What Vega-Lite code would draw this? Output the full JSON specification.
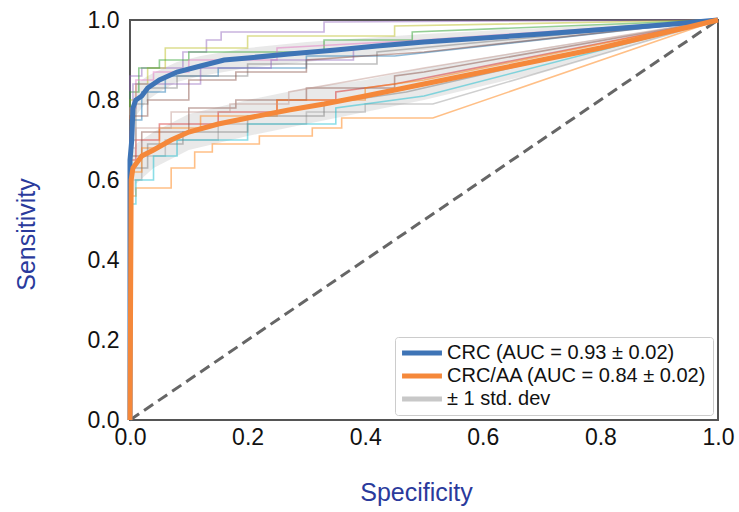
{
  "$schema": "https://vega.github.io/schema/vega-lite/v6.json",
  "width": 588,
  "height": 400,
  "autosize": "none",
  "padding": {"left": 130, "top": 20, "right": 21, "bottom": 92},
  "background": "white",
  "config": {
    "font": "Liberation Sans",
    "view": {"stroke": "#555555", "strokeWidth": 2},
    "axis": {"grid": false, "domain": false, "ticks": false, "labelFlush": false, "labelOverlap": false, "labelBound": false, "labelFontSize": 23, "labelColor": "#111111", "titleFontSize": 25, "titleFontWeight": "normal", "titleColor": "#2a3a9c"},
    "legend": {
      "title": null, "orient": "bottom-right", "offset": 5, "padding": 6, "rowPadding": 3,
      "labelFontSize": 20, "labelColor": "#111111", "labelOffset": 15, "labelLimit": 400,
      "strokeColor": "#cccccc", "fillColor": "white", "cornerRadius": 3, "symbolSize": 361, "symbolOffset": 11,
      "symbolType": "M-2.1,-0.26H2.1V0.26H-2.1Z", "symbolOpacity": 1, "symbolStrokeWidth": 0
    }
  },
  "datasets": {
    "folds": [
      {"id":"c1","i":0,"x":0,"y":0},{"id":"c1","i":1,"x":0,"y":0.86},{"id":"c1","i":2,"x":0.02,"y":0.86},{"id":"c1","i":3,"x":0.02,"y":0.88},{"id":"c1","i":4,"x":0.09,"y":0.88},{"id":"c1","i":5,"x":0.09,"y":0.92},{"id":"c1","i":6,"x":0.13,"y":0.92},{"id":"c1","i":7,"x":0.13,"y":0.95},{"id":"c1","i":8,"x":0.155,"y":0.95},{"id":"c1","i":9,"x":0.155,"y":0.97},{"id":"c1","i":10,"x":0.33,"y":0.97},{"id":"c1","i":11,"x":0.33,"y":0.995},{"id":"c1","i":12,"x":1,"y":1},
      {"id":"c2","i":0,"x":0,"y":0},{"id":"c2","i":1,"x":0,"y":0.8},{"id":"c2","i":2,"x":0.01,"y":0.8},{"id":"c2","i":3,"x":0.01,"y":0.84},{"id":"c2","i":4,"x":0.03,"y":0.84},{"id":"c2","i":5,"x":0.03,"y":0.88},{"id":"c2","i":6,"x":0.06,"y":0.88},{"id":"c2","i":7,"x":0.06,"y":0.93},{"id":"c2","i":8,"x":0.2,"y":0.93},{"id":"c2","i":9,"x":0.2,"y":0.96},{"id":"c2","i":10,"x":0.45,"y":0.96},{"id":"c2","i":11,"x":0.45,"y":0.985},{"id":"c2","i":12,"x":1,"y":1},
      {"id":"c3","i":0,"x":0,"y":0},{"id":"c3","i":1,"x":0,"y":0.82},{"id":"c3","i":2,"x":0.015,"y":0.82},{"id":"c3","i":3,"x":0.015,"y":0.88},{"id":"c3","i":4,"x":0.05,"y":0.88},{"id":"c3","i":5,"x":0.05,"y":0.9},{"id":"c3","i":6,"x":0.1,"y":0.9},{"id":"c3","i":7,"x":0.1,"y":0.92},{"id":"c3","i":8,"x":0.33,"y":0.92},{"id":"c3","i":9,"x":0.33,"y":0.95},{"id":"c3","i":10,"x":0.48,"y":0.95},{"id":"c3","i":11,"x":0.48,"y":0.97},{"id":"c3","i":12,"x":1,"y":1},
      {"id":"c4","i":0,"x":0,"y":0},{"id":"c4","i":1,"x":0,"y":0.78},{"id":"c4","i":2,"x":0.01,"y":0.78},{"id":"c4","i":3,"x":0.01,"y":0.85},{"id":"c4","i":4,"x":0.04,"y":0.85},{"id":"c4","i":5,"x":0.04,"y":0.87},{"id":"c4","i":6,"x":0.1,"y":0.87},{"id":"c4","i":7,"x":0.1,"y":0.9},{"id":"c4","i":8,"x":0.25,"y":0.9},{"id":"c4","i":9,"x":0.25,"y":0.93},{"id":"c4","i":10,"x":0.5,"y":0.95},{"id":"c4","i":11,"x":1,"y":1},
      {"id":"c5","i":0,"x":0,"y":0},{"id":"c5","i":1,"x":0,"y":0.75},{"id":"c5","i":2,"x":0.02,"y":0.75},{"id":"c5","i":3,"x":0.02,"y":0.82},{"id":"c5","i":4,"x":0.06,"y":0.82},{"id":"c5","i":5,"x":0.06,"y":0.86},{"id":"c5","i":6,"x":0.15,"y":0.86},{"id":"c5","i":7,"x":0.15,"y":0.88},{"id":"c5","i":8,"x":0.3,"y":0.88},{"id":"c5","i":9,"x":0.3,"y":0.91},{"id":"c5","i":10,"x":0.45,"y":0.91},{"id":"c5","i":11,"x":1,"y":1},
      {"id":"c6","i":0,"x":0,"y":0},{"id":"c6","i":1,"x":0,"y":0.7},{"id":"c6","i":2,"x":0.01,"y":0.7},{"id":"c6","i":3,"x":0.01,"y":0.79},{"id":"c6","i":4,"x":0.03,"y":0.79},{"id":"c6","i":5,"x":0.03,"y":0.83},{"id":"c6","i":6,"x":0.08,"y":0.83},{"id":"c6","i":7,"x":0.08,"y":0.86},{"id":"c6","i":8,"x":0.2,"y":0.86},{"id":"c6","i":9,"x":0.2,"y":0.89},{"id":"c6","i":10,"x":0.42,"y":0.89},{"id":"c6","i":11,"x":0.42,"y":0.92},{"id":"c6","i":12,"x":1,"y":1},
      {"id":"c7","i":0,"x":0,"y":0},{"id":"c7","i":1,"x":0,"y":0.72},{"id":"c7","i":2,"x":0.005,"y":0.72},{"id":"c7","i":3,"x":0.005,"y":0.84},{"id":"c7","i":4,"x":0.12,"y":0.84},{"id":"c7","i":5,"x":0.12,"y":0.88},{"id":"c7","i":6,"x":0.24,"y":0.88},{"id":"c7","i":7,"x":0.24,"y":0.9},{"id":"c7","i":8,"x":0.38,"y":0.9},{"id":"c7","i":9,"x":0.38,"y":0.93},{"id":"c7","i":10,"x":1,"y":1},
      {"id":"c8","i":0,"x":0,"y":0},{"id":"c8","i":1,"x":0,"y":0.76},{"id":"c8","i":2,"x":0.03,"y":0.76},{"id":"c8","i":3,"x":0.03,"y":0.8},{"id":"c8","i":4,"x":0.1,"y":0.8},{"id":"c8","i":5,"x":0.1,"y":0.85},{"id":"c8","i":6,"x":0.18,"y":0.85},{"id":"c8","i":7,"x":0.18,"y":0.87},{"id":"c8","i":8,"x":0.3,"y":0.87},{"id":"c8","i":9,"x":0.3,"y":0.9},{"id":"c8","i":10,"x":0.5,"y":0.92},{"id":"c8","i":11,"x":1,"y":1},
      {"id":"a1","i":0,"x":0,"y":0},{"id":"a1","i":1,"x":0,"y":0.56},{"id":"a1","i":2,"x":0.01,"y":0.56},{"id":"a1","i":3,"x":0.01,"y":0.58},{"id":"a1","i":4,"x":0.07,"y":0.58},{"id":"a1","i":5,"x":0.07,"y":0.63},{"id":"a1","i":6,"x":0.11,"y":0.63},{"id":"a1","i":7,"x":0.11,"y":0.67},{"id":"a1","i":8,"x":0.14,"y":0.67},{"id":"a1","i":9,"x":0.14,"y":0.69},{"id":"a1","i":10,"x":0.22,"y":0.69},{"id":"a1","i":11,"x":0.22,"y":0.71},{"id":"a1","i":12,"x":0.31,"y":0.71},{"id":"a1","i":13,"x":0.31,"y":0.73},{"id":"a1","i":14,"x":0.36,"y":0.73},{"id":"a1","i":15,"x":0.36,"y":0.755},{"id":"a1","i":16,"x":0.515,"y":0.755},{"id":"a1","i":17,"x":1,"y":1},
      {"id":"a2","i":0,"x":0,"y":0},{"id":"a2","i":1,"x":0,"y":0.6},{"id":"a2","i":2,"x":0.02,"y":0.6},{"id":"a2","i":3,"x":0.02,"y":0.66},{"id":"a2","i":4,"x":0.06,"y":0.66},{"id":"a2","i":5,"x":0.06,"y":0.7},{"id":"a2","i":6,"x":0.15,"y":0.7},{"id":"a2","i":7,"x":0.15,"y":0.74},{"id":"a2","i":8,"x":0.3,"y":0.74},{"id":"a2","i":9,"x":0.3,"y":0.77},{"id":"a2","i":10,"x":0.4,"y":0.77},{"id":"a2","i":11,"x":0.4,"y":0.79},{"id":"a2","i":12,"x":0.515,"y":0.79},{"id":"a2","i":13,"x":1,"y":1},
      {"id":"a3","i":0,"x":0,"y":0},{"id":"a3","i":1,"x":0,"y":0.54},{"id":"a3","i":2,"x":0.01,"y":0.54},{"id":"a3","i":3,"x":0.01,"y":0.6},{"id":"a3","i":4,"x":0.04,"y":0.6},{"id":"a3","i":5,"x":0.04,"y":0.66},{"id":"a3","i":6,"x":0.08,"y":0.66},{"id":"a3","i":7,"x":0.08,"y":0.7},{"id":"a3","i":8,"x":0.2,"y":0.7},{"id":"a3","i":9,"x":0.2,"y":0.74},{"id":"a3","i":10,"x":0.35,"y":0.74},{"id":"a3","i":11,"x":0.35,"y":0.78},{"id":"a3","i":12,"x":0.5,"y":0.81},{"id":"a3","i":13,"x":1,"y":1},
      {"id":"a4","i":0,"x":0,"y":0},{"id":"a4","i":1,"x":0,"y":0.65},{"id":"a4","i":2,"x":0.01,"y":0.65},{"id":"a4","i":3,"x":0.01,"y":0.7},{"id":"a4","i":4,"x":0.05,"y":0.7},{"id":"a4","i":5,"x":0.05,"y":0.74},{"id":"a4","i":6,"x":0.15,"y":0.74},{"id":"a4","i":7,"x":0.15,"y":0.77},{"id":"a4","i":8,"x":0.25,"y":0.77},{"id":"a4","i":9,"x":0.25,"y":0.8},{"id":"a4","i":10,"x":0.35,"y":0.8},{"id":"a4","i":11,"x":0.35,"y":0.82},{"id":"a4","i":12,"x":0.45,"y":0.84},{"id":"a4","i":13,"x":1,"y":1},
      {"id":"a5","i":0,"x":0,"y":0},{"id":"a5","i":1,"x":0,"y":0.66},{"id":"a5","i":2,"x":0.02,"y":0.66},{"id":"a5","i":3,"x":0.02,"y":0.72},{"id":"a5","i":4,"x":0.1,"y":0.72},{"id":"a5","i":5,"x":0.1,"y":0.78},{"id":"a5","i":6,"x":0.18,"y":0.78},{"id":"a5","i":7,"x":0.18,"y":0.8},{"id":"a5","i":8,"x":0.3,"y":0.8},{"id":"a5","i":9,"x":0.3,"y":0.83},{"id":"a5","i":10,"x":0.45,"y":0.83},{"id":"a5","i":11,"x":0.45,"y":0.86},{"id":"a5","i":12,"x":0.5,"y":0.87},{"id":"a5","i":13,"x":1,"y":1},
      {"id":"a6","i":0,"x":0,"y":0},{"id":"a6","i":1,"x":0,"y":0.62},{"id":"a6","i":2,"x":0.02,"y":0.62},{"id":"a6","i":3,"x":0.02,"y":0.68},{"id":"a6","i":4,"x":0.05,"y":0.68},{"id":"a6","i":5,"x":0.05,"y":0.73},{"id":"a6","i":6,"x":0.12,"y":0.73},{"id":"a6","i":7,"x":0.12,"y":0.76},{"id":"a6","i":8,"x":0.25,"y":0.76},{"id":"a6","i":9,"x":0.25,"y":0.8},{"id":"a6","i":10,"x":0.4,"y":0.8},{"id":"a6","i":11,"x":0.4,"y":0.83},{"id":"a6","i":12,"x":0.5,"y":0.85},{"id":"a6","i":13,"x":1,"y":1},
      {"id":"a7","i":0,"x":0,"y":0},{"id":"a7","i":1,"x":0,"y":0.63},{"id":"a7","i":2,"x":0.03,"y":0.63},{"id":"a7","i":3,"x":0.03,"y":0.69},{"id":"a7","i":4,"x":0.09,"y":0.69},{"id":"a7","i":5,"x":0.09,"y":0.72},{"id":"a7","i":6,"x":0.2,"y":0.72},{"id":"a7","i":7,"x":0.2,"y":0.76},{"id":"a7","i":8,"x":0.33,"y":0.76},{"id":"a7","i":9,"x":0.33,"y":0.79},{"id":"a7","i":10,"x":0.47,"y":0.82},{"id":"a7","i":11,"x":1,"y":1},
      {"id":"a8","i":0,"x":0,"y":0},{"id":"a8","i":1,"x":0,"y":0.68},{"id":"a8","i":2,"x":0.01,"y":0.68},{"id":"a8","i":3,"x":0.01,"y":0.73},{"id":"a8","i":4,"x":0.07,"y":0.73},{"id":"a8","i":5,"x":0.07,"y":0.77},{"id":"a8","i":6,"x":0.17,"y":0.77},{"id":"a8","i":7,"x":0.17,"y":0.79},{"id":"a8","i":8,"x":0.27,"y":0.79},{"id":"a8","i":9,"x":0.27,"y":0.82},{"id":"a8","i":10,"x":0.5,"y":0.88},{"id":"a8","i":11,"x":1,"y":1}
    ],
    "means": [
      {"series":"CRC (AUC = 0.93 ± 0.02)","i":0,"x":0,"y":0},{"series":"CRC (AUC = 0.93 ± 0.02)","i":1,"x":0,"y":0.65},{"series":"CRC (AUC = 0.93 ± 0.02)","i":2,"x":0.003,"y":0.7},{"series":"CRC (AUC = 0.93 ± 0.02)","i":3,"x":0.005,"y":0.78},{"series":"CRC (AUC = 0.93 ± 0.02)","i":4,"x":0.01,"y":0.8},{"series":"CRC (AUC = 0.93 ± 0.02)","i":5,"x":0.02,"y":0.81},{"series":"CRC (AUC = 0.93 ± 0.02)","i":6,"x":0.03,"y":0.83},{"series":"CRC (AUC = 0.93 ± 0.02)","i":7,"x":0.05,"y":0.85},{"series":"CRC (AUC = 0.93 ± 0.02)","i":8,"x":0.08,"y":0.87},{"series":"CRC (AUC = 0.93 ± 0.02)","i":9,"x":0.12,"y":0.885},{"series":"CRC (AUC = 0.93 ± 0.02)","i":10,"x":0.16,"y":0.9},{"series":"CRC (AUC = 0.93 ± 0.02)","i":11,"x":0.2,"y":0.905},{"series":"CRC (AUC = 0.93 ± 0.02)","i":12,"x":0.27,"y":0.915},{"series":"CRC (AUC = 0.93 ± 0.02)","i":13,"x":0.35,"y":0.925},{"series":"CRC (AUC = 0.93 ± 0.02)","i":14,"x":0.42,"y":0.935},{"series":"CRC (AUC = 0.93 ± 0.02)","i":15,"x":0.5,"y":0.945},{"series":"CRC (AUC = 0.93 ± 0.02)","i":16,"x":0.7,"y":0.965},{"series":"CRC (AUC = 0.93 ± 0.02)","i":17,"x":0.9,"y":0.987},{"series":"CRC (AUC = 0.93 ± 0.02)","i":18,"x":1,"y":1},
      {"series":"CRC/AA (AUC = 0.84 ± 0.02)","i":0,"x":0,"y":0},{"series":"CRC/AA (AUC = 0.84 ± 0.02)","i":1,"x":0.002,"y":0.6},{"series":"CRC/AA (AUC = 0.84 ± 0.02)","i":2,"x":0.005,"y":0.63},{"series":"CRC/AA (AUC = 0.84 ± 0.02)","i":3,"x":0.01,"y":0.64},{"series":"CRC/AA (AUC = 0.84 ± 0.02)","i":4,"x":0.02,"y":0.66},{"series":"CRC/AA (AUC = 0.84 ± 0.02)","i":5,"x":0.04,"y":0.675},{"series":"CRC/AA (AUC = 0.84 ± 0.02)","i":6,"x":0.07,"y":0.7},{"series":"CRC/AA (AUC = 0.84 ± 0.02)","i":7,"x":0.1,"y":0.72},{"series":"CRC/AA (AUC = 0.84 ± 0.02)","i":8,"x":0.15,"y":0.74},{"series":"CRC/AA (AUC = 0.84 ± 0.02)","i":9,"x":0.2,"y":0.755},{"series":"CRC/AA (AUC = 0.84 ± 0.02)","i":10,"x":0.27,"y":0.775},{"series":"CRC/AA (AUC = 0.84 ± 0.02)","i":11,"x":0.33,"y":0.79},{"series":"CRC/AA (AUC = 0.84 ± 0.02)","i":12,"x":0.4,"y":0.81},{"series":"CRC/AA (AUC = 0.84 ± 0.02)","i":13,"x":0.5,"y":0.84},{"series":"CRC/AA (AUC = 0.84 ± 0.02)","i":14,"x":0.6,"y":0.87},{"series":"CRC/AA (AUC = 0.84 ± 0.02)","i":15,"x":0.7,"y":0.9},{"series":"CRC/AA (AUC = 0.84 ± 0.02)","i":16,"x":0.8,"y":0.93},{"series":"CRC/AA (AUC = 0.84 ± 0.02)","i":17,"x":0.9,"y":0.965},{"series":"CRC/AA (AUC = 0.84 ± 0.02)","i":18,"x":1,"y":1}
    ],
    "band": [
      {"series":"± 1 std. dev","grp":"CRC","x":0.003,"lo":0.62,"hi":0.78},{"series":"± 1 std. dev","grp":"CRC","x":0.01,"lo":0.76,"hi":0.84},{"series":"± 1 std. dev","grp":"CRC","x":0.03,"lo":0.8,"hi":0.86},{"series":"± 1 std. dev","grp":"CRC","x":0.05,"lo":0.82,"hi":0.875},{"series":"± 1 std. dev","grp":"CRC","x":0.08,"lo":0.845,"hi":0.895},{"series":"± 1 std. dev","grp":"CRC","x":0.12,"lo":0.86,"hi":0.91},{"series":"± 1 std. dev","grp":"CRC","x":0.2,"lo":0.88,"hi":0.93},{"series":"± 1 std. dev","grp":"CRC","x":0.3,"lo":0.895,"hi":0.945},{"series":"± 1 std. dev","grp":"CRC","x":0.4,"lo":0.91,"hi":0.955},{"series":"± 1 std. dev","grp":"CRC","x":0.5,"lo":0.925,"hi":0.965},{"series":"± 1 std. dev","grp":"CRC","x":0.7,"lo":0.95,"hi":0.98},{"series":"± 1 std. dev","grp":"CRC","x":1,"lo":1,"hi":1},
      {"series":"± 1 std. dev","grp":"AA","x":0.003,"lo":0.54,"hi":0.66},{"series":"± 1 std. dev","grp":"AA","x":0.01,"lo":0.59,"hi":0.69},{"series":"± 1 std. dev","grp":"AA","x":0.04,"lo":0.63,"hi":0.72},{"series":"± 1 std. dev","grp":"AA","x":0.1,"lo":0.675,"hi":0.765},{"series":"± 1 std. dev","grp":"AA","x":0.2,"lo":0.71,"hi":0.8},{"series":"± 1 std. dev","grp":"AA","x":0.3,"lo":0.74,"hi":0.83},{"series":"± 1 std. dev","grp":"AA","x":0.4,"lo":0.77,"hi":0.85},{"series":"± 1 std. dev","grp":"AA","x":0.5,"lo":0.8,"hi":0.88},{"series":"± 1 std. dev","grp":"AA","x":0.7,"lo":0.87,"hi":0.93},{"series":"± 1 std. dev","grp":"AA","x":1,"lo":1,"hi":1}
    ],
    "diag": [{"x":0,"y":0},{"x":1,"y":1}]
  },
  "layer": [
    {
      "data": {"name": "band"},
      "mark": {"type": "area", "opacity": 0.4},
      "encoding": {
        "x": {"field": "x", "type": "quantitative", "scale": {"domain": [0, 1], "nice": false, "zero": false}, "axis": {"title": "Specificity", "values": [0, 0.2, 0.4, 0.6, 0.8, 1], "format": ".1f", "labelPadding": 6, "titlePadding": 31, "titleX": 286}},
        "y": {"field": "lo", "type": "quantitative", "scale": {"domain": [0, 1], "nice": false, "zero": false}, "axis": {"title": "Sensitivity", "values": [0, 0.2, 0.4, 0.6, 0.8, 1], "format": ".1f", "labelPadding": 11, "titlePadding": 48, "titleY": 214}},
        "y2": {"field": "hi"},
        "detail": {"field": "grp"},
        "color": {
          "field": "series", "type": "nominal",
          "scale": {"domain": ["CRC (AUC = 0.93 ± 0.02)", "CRC/AA (AUC = 0.84 ± 0.02)", "± 1 std. dev"], "range": ["#3e74b6", "#f5883a", "#c8c8c8"]}
        }
      }
    },
    {
      "data": {"name": "folds"},
      "mark": {"type": "line", "strokeWidth": 1.6, "opacity": 0.5},
      "encoding": {
        "x": {"field": "x", "type": "quantitative"},
        "y": {"field": "y", "type": "quantitative"},
        "order": {"field": "i", "type": "quantitative"},
        "stroke": {"field": "id", "type": "nominal", "legend": null,
          "scale": {"domain": ["c1","c2","c3","c4","c5","c6","c7","c8","a1","a2","a3","a4","a5","a6","a7","a8"],
                    "range": ["#9467bd","#bcbd22","#2ca02c","#e377c2","#1f77b4","#7f7f7f","#9467bd","#8c564b","#ff7f0e","#a0a0a0","#17becf","#d62728","#8c564b","#ff7f0e","#7f7f7f","#c49c94"]}}
      }
    },
    {
      "data": {"name": "diag"},
      "mark": {"type": "line", "strokeWidth": 3, "strokeDash": [11, 6], "color": "#666666"},
      "encoding": {
        "x": {"field": "x", "type": "quantitative"},
        "y": {"field": "y", "type": "quantitative"}
      }
    },
    {
      "data": {"name": "means"},
      "mark": {"type": "line", "strokeWidth": 5},
      "encoding": {
        "x": {"field": "x", "type": "quantitative"},
        "y": {"field": "y", "type": "quantitative"},
        "order": {"field": "i", "type": "quantitative"},
        "color": {"field": "series", "type": "nominal"}
      }
    }
  ]
}
